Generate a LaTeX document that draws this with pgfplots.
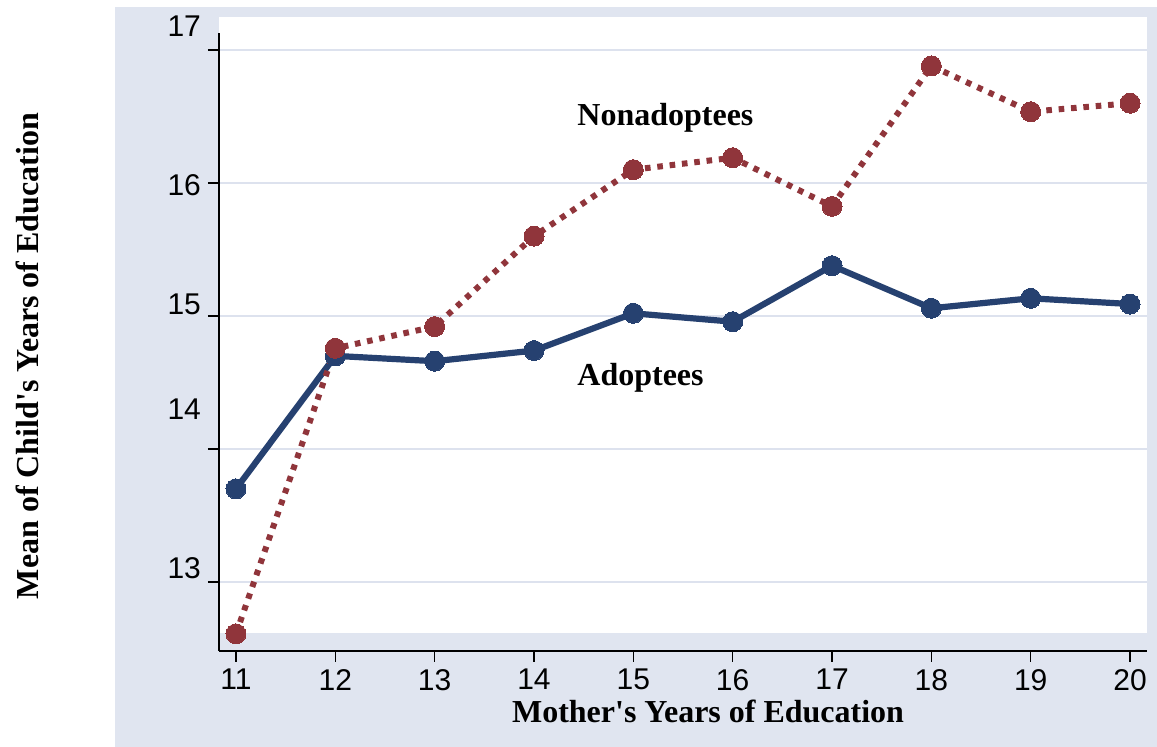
\documentclass[border=0pt]{standalone}
\usepackage{fontspec}
\setmainfont{Liberation Serif}
\newfontfamily\tickfont{Liberation Sans}
\usepackage{pgfplots}
\pgfplotsset{compat=1.18}
\definecolor{bgc}{RGB}{224,229,240}
\definecolor{gridc}{RGB}{221,226,238}
\definecolor{sblue}{RGB}{38,65,112}
\definecolor{sred}{RGB}{144,53,59}
\newcommand{\yl}[2]{\smash{\raisebox{#1}{#2}}}
\begin{document}
\begin{tikzpicture}
\useasboundingbox (-109.5pt,-48pt) rectangle (469pt,325.5pt);
\fill[bgc] (-52pt,-48pt) rectangle (469pt,322pt);
\fill[white] (0pt,9pt) rectangle (464pt,317pt);
\begin{axis}[
 at={(0pt,0pt)}, anchor=south west,
 scale only axis, width=464pt, height=309pt,
 xmin=10.829, xmax=20.171, ymin=12.481, ymax=17.128,
 clip=false,
 axis x line*=bottom, axis y line*=left,
 axis line style={line width=0.75pt, black},
 xtick={11,12,13,14,15,16,17,18,19,20},
 xticklabels={11,12,13,14,15,16,17,18,19,20},
 ytick={13,14,15,16,17},
 yticklabels={\yl{1.6pt}{13},\yl{14.6pt}{14},\yl{0.6pt}{15},\yl{-6.4pt}{16},\yl{6.8pt}{17}},
 tick align=outside, major tick length=5.5pt,
 tick style={black, line width=0.75pt},
 ticklabel style={font=\tickfont\fontsize{15}{18}\selectfont},
 ymajorgrids, major grid style={gridc, line width=1pt},
 xlabel={Mother\textquotesingle s Years of Education},
 ylabel={Mean of Child\textquotesingle s Years of Education},
 label style={font=\bfseries\fontsize{16}{19}\selectfont},
 x label style={at={(axis cs:15.752,11.942)}, anchor=base},
 y label style={at={(axis cs:8.896,14.699)}, anchor=center},
]
\addplot[sblue, line width=3.1pt, mark=*, mark size=5pt, mark options={solid, fill=sblue, line width=0pt}]
 coordinates {(11,13.70) (12,14.70) (13,14.66) (14,14.74) (15,15.02) (16,14.957) (17,15.378) (18,15.058) (19,15.133) (20,15.09)};
\addplot[sred, line width=3pt, dash pattern=on 2.8pt off 3.4pt, mark=*, mark size=5pt, mark options={solid, fill=sred, line width=0pt}]
 coordinates {(11,12.61) (12,14.757) (13,14.92) (14,15.60) (15,16.10) (16,16.19) (17,15.824) (18,16.88) (19,16.536) (20,16.60)};
\node[anchor=base west, inner sep=0pt, font=\bfseries\fontsize{16}{19}\selectfont] at (axis cs:14.433,16.429) {Nonadoptees};
\node[anchor=base west, inner sep=0pt, font=\bfseries\fontsize{16}{19}\selectfont] at (axis cs:14.433,14.481) {Adoptees};
\end{axis}
\end{tikzpicture}
\end{document}
